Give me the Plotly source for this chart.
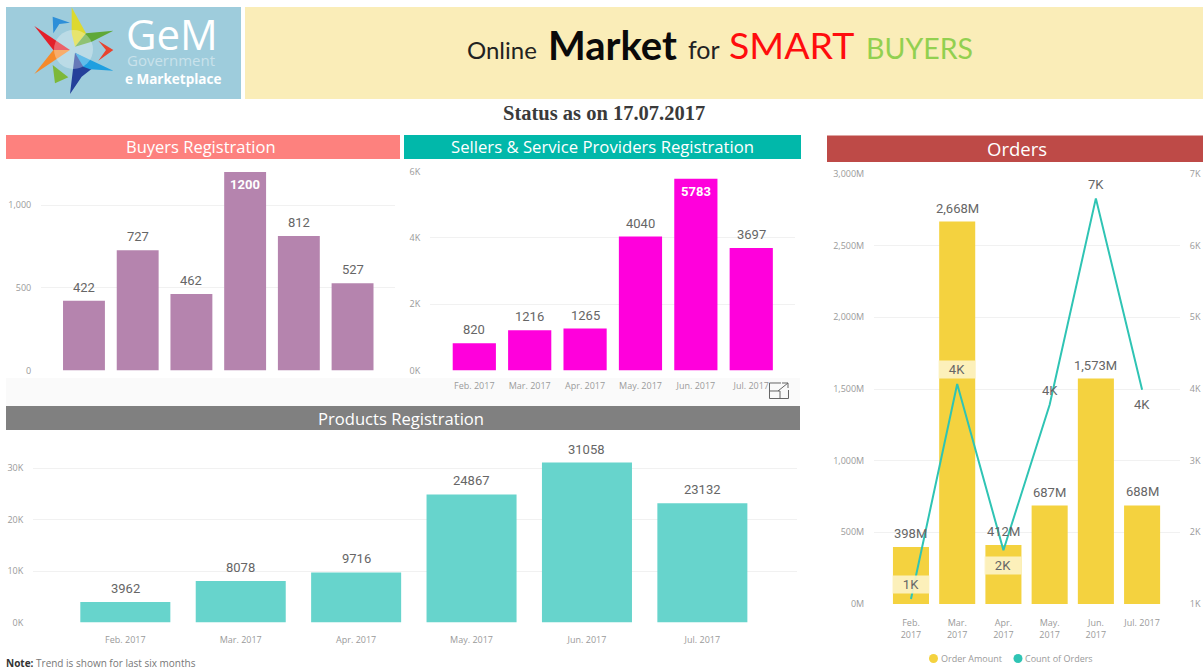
import plotly.graph_objects as go

W, H = 1203, 670

months = ["Feb. 2017", "Mar. 2017", "Apr. 2017", "May. 2017", "Jun. 2017", "Jul. 2017"]
months_wrapped = ["Feb.<br>2017", "Mar.<br>2017", "Apr.<br>2017", "May.<br>2017", "Jun.<br>2017", "Jul. 2017"]
buyers = [422, 727, 462, 1200, 812, 527]
sellers = [820, 1216, 1265, 4040, 5783, 3697]
products = [3962, 8078, 9716, 24867, 31058, 23132]
order_amount = [398, 2668, 412, 687, 1573, 688]
order_count = [1070, 4070, 1750, 3780, 6660, 3990]
order_count_labels = ["1K", "4K", "2K", "4K", "7K", "4K"]
order_label_below = [False, False, True, False, False, True]
order_label_box = [True, True, True, False, False, False]

TICK = "#9a9a9a"
LABEL = "#666666"
GRID = "#f1f1f1"
TF = "Open Sans"
NF = "Roboto"


def px(x):
    return x / W


def py(y):
    return 1 - y / H


def xdom(a, b):
    return [px(a), px(b)]


def ydom(top, bottom):
    return [py(bottom), py(top)]


fig = go.Figure()
annotations = []


def bars(vals, labels, color, xa, ya, inside_max=False):
    top = max(vals)
    fig.add_trace(go.Bar(
        x=months, y=vals, xaxis=xa, yaxis=ya, marker=dict(color=color, line=dict(width=0)),
        cliponaxis=False, showlegend=False, hoverinfo="x+y", width=0.78,
    ))
    for m, v, lab in zip(months, vals, labels):
        inside = inside_max and v == top
        annotations.append(dict(
            xref=xa, yref=ya, x=m, y=v, text=f"<b>{lab}</b>" if inside else lab, showarrow=False,
            yshift=-13 if inside else 13.5, xanchor="center", yanchor="middle", borderpad=0,
            font=dict(family=NF, size=13, color="white" if inside else LABEL),
        ))


bars(buyers, [str(v) for v in buyers], "#B584AE", "x", "y", True)
bars(sellers, [str(v) for v in sellers], "#FF00DC", "x2", "y2", True)
bars(products, [str(v) for v in products], "#67D4CC", "x3", "y3")
bars(order_amount, [f"{v:,}M" for v in order_amount], "#F4D23F", "x4", "y4")

fig.add_trace(go.Scatter(
    x=months, y=order_count, xaxis="x4", yaxis="y5", mode="lines",
    line=dict(color="#2FC4B4", width=2), showlegend=False, name="Count of Orders",
))


def xaxis(dom, rng, show=True, vals=None, text=None, anchor="y", ticklen=7):
    d = dict(domain=dom, range=rng, type="category", categoryorder="array", categoryarray=months,
             showgrid=False, zeroline=False, showline=False, anchor=anchor,
             fixedrange=True, tickfont=dict(family=TF, size=9, color=TICK), tickangle=0,
             ticks="outside" if show else "", ticklen=ticklen, tickcolor="rgba(0,0,0,0)",
             showticklabels=show)
    if vals:
        d.update(tickmode="array", tickvals=vals, ticktext=text)
    return d


def yaxis(dom, rng, vals, text, anchor, **kw):
    d = dict(domain=dom, range=rng, tickmode="array", tickvals=vals, ticktext=text, anchor=anchor,
             showgrid=True, gridcolor=GRID, gridwidth=1, zeroline=False, showline=False,
             tickfont=dict(family=TF, size=9, color=TICK), ticks="outside", ticklen=7,
             tickcolor="rgba(0,0,0,0)", fixedrange=True)
    d.update(kw)
    return d


bx = (41, 395)
sx = (430, 795)
px_ = (33, 797)
ox = (874, 1180)

layout = dict(
    width=W, height=H, autosize=False, margin=dict(l=0, r=0, t=0, b=0, autoexpand=False),
    paper_bgcolor="white", plot_bgcolor="rgba(0,0,0,0)", showlegend=False, bargap=0.22,
    xaxis=xaxis(xdom(*bx), [-0.8, 5.79], show=False, anchor="y"),
    yaxis=yaxis(ydom(165, 370.5), [0, 1241.7], [0, 500, 1000], ["0", "500", "1,000"], "x"),
    xaxis2=xaxis(xdom(*sx), [-0.8, 5.79], anchor="y2"),
    yaxis2=yaxis(ydom(171.5, 370.5), [0, 6000], [0, 2000, 4000, 6000], ["0K", "2K", "4K", "6K"], "x2"),
    xaxis3=xaxis(xdom(*px_), [-0.8, 5.82], anchor="y3", ticklen=9),
    yaxis3=yaxis(ydom(445, 622.5), [0, 34466], [0, 10000, 20000, 30000], ["0K", "10K", "20K", "30K"], "x3"),
    xaxis4=xaxis(xdom(*ox), [-0.8, 5.82], vals=months, text=months_wrapped, anchor="y4", ticklen=10),
    yaxis4=yaxis(ydom(174, 604), [0, 3000], [0, 500, 1000, 1500, 2000, 2500, 3000],
                 ["0M", "500M", "1,000M", "1,500M", "2,000M", "2,500M", "3,000M"], "x4"),
    yaxis5=yaxis(ydom(174, 604), [1000, 7000], [1000, 2000, 3000, 4000, 5000, 6000, 7000],
                 ["1K", "2K", "3K", "4K", "5K", "6K", "7K"], "x4", overlaying="y4", side="right", showgrid=False),
)

shapes = []


def rect(x0, y0, x1, y1, color, layer="below"):
    shapes.append(dict(type="rect", xref="paper", yref="paper", x0=px(x0), x1=px(x1), y0=py(y0), y1=py(y1),
                       fillcolor=color, line=dict(width=0), layer=layer))


def poly(points, color, opacity=1):
    path = "M " + " L ".join(f"{px(a / 3):.5f},{py(b / 3):.5f}" for a, b in points) + " Z"
    shapes.append(dict(type="path", xref="paper", yref="paper", path=path, fillcolor=color,
                       line=dict(width=0), opacity=opacity, layer="above"))


def stroke(points):
    path = "M " + " L ".join(f"{px(a):.5f},{py(b):.5f}" for a, b in points)
    shapes.append(dict(type="path", xref="paper", yref="paper", path=path,
                       line=dict(color="#666666", width=1), layer="above"))


def text(x, y, s, size, color, family=TF, anchor="center", bold=False):
    annotations.append(dict(xref="paper", yref="paper", x=px(x), y=py(y), text=f"<b>{s}</b>" if bold else s,
                            showarrow=False, xanchor=anchor, yanchor="middle",
                            font=dict(family=family, size=size, color=color),
                            borderpad=0))


# banner
rect(6, 7, 241, 99, "#9ECCDC")
rect(245, 7, 1203, 99, "#FAEDB8")
text(466, 50, "Online", 24, "#222222", "Lato", "left")
text(547, 45, "Market", 40, "#0a0a0a", "Lato", "left", True)
text(687, 49, "for", 25, "#222222", "Lato", "left")
text(728, 45, "SMART", 37.5, "#FF0D0D", "Lato", "left")
text(865, 48, "BUYERS", 28.5, "#92D050", "Lato", "left")

# logo
poly([(103, 78), (210, 150), (160, 150)], "#E3202A")
poly([(160, 150), (210, 150), (103, 222)], "#F58A2B")
poly([(215, 22), (258, 100), (225, 140), (215, 100)], "#DDD92F")
poly([(340, 92), (258, 100), (225, 140), (275, 125)], "#5FA838")
poly([(225, 158), (210, 282), (245, 230), (290, 195)], "#24409A")
poly([(225, 158), (340, 212), (270, 208), (250, 200)], "#1E9FE0")
poly([(158, 50), (210, 68), (178, 72), (160, 100)], "#2D8FD8")
poly([(295, 122), (340, 150), (295, 182), (318, 150)], "#E8432E")
poly([(158, 195), (205, 232), (165, 250)], "#7DB83A")
shapes.append(dict(type="circle", xref="paper", yref="paper", x0=px(54), x1=px(93), y0=py(30), y1=py(69),
                   fillcolor="rgba(255,255,255,0.3)", line=dict(width=0), layer="above"))
text(172, 33, "GeM", 42, "white", "Open Sans")
text(171, 60, "Government", 15, "#C9E2EB", "Open Sans")
text(173, 78.5, "e Marketplace", 13.5, "white", "Open Sans", bold=True)

text(604, 113, "Status as on 17.07.2017", 20.5, "#3a3a3a", "Liberation Serif", bold=True)

# panel headers
rect(6, 135, 400, 159, "#FD817E")
rect(404, 135, 801, 159, "#01B8AA")
rect(6, 406, 800, 430, "#808080")
rect(827, 135.5, 1203, 162, "#BE4A47")
rect(6, 378, 800, 406, "#FAFAFA")
text(200.5, 146.5, "Buyers Registration", 16.5, "white")
text(602.5, 146.5, "Sellers &amp; Service Providers Registration", 16.7, "white")
text(401, 418, "Products Registration", 16.6, "white")
text(1016.5, 148.5, "Orders", 18.5, "white")

# focus-mode icon
stroke([(781, 383), (769.5, 383), (769.5, 398.5), (788.5, 398.5), (788.5, 390)])
stroke([(769.5, 391), (780, 391), (780, 398.5)])
stroke([(778, 391), (788, 383), (782, 383)])
stroke([(788, 383), (788, 388)])

# line labels
for m, v, lab, below, box in zip(months, order_count, order_count_labels, order_label_below, order_label_box):
    annotations.append(dict(xref="x4", yref="y5", x=m, y=v, text=lab, showarrow=False,
                            yshift=-15 if below else 14, xanchor="center", yanchor="middle",
                            font=dict(family=NF, size=13, color=LABEL),
                            bgcolor="rgba(253,243,200,0.9)" if box else "rgba(0,0,0,0)",
                            width=34 if box else None, borderpad=1))

# legend
for cx, c in ((933.5, "#F4D23F"), (1018, "#2FC4B4")):
    shapes.append(dict(type="circle", xref="paper", yref="paper", x0=px(cx - 4.5), x1=px(cx + 4.5),
                       y0=py(654), y1=py(663), fillcolor=c, line=dict(width=0), layer="above"))
text(940, 658.5, "Order Amount", 9, TICK, anchor="left")
text(1024, 658.5, "Count of Orders", 9, TICK, anchor="left")

# note
annotations.append(dict(xref="paper", yref="paper", x=px(6), y=py(662.5), xanchor="left", yanchor="middle",
                        showarrow=False, borderpad=0, borderwidth=0,
                        text="<b>Note:</b> <span style='color:#777777'>Trend is shown for last six months</span>",
                        font=dict(family=TF, size=10, color="#333333")))

layout["shapes"] = shapes
layout["annotations"] = annotations
fig.update_layout(**layout)
fig.write_html("out.html", config={"displayModeBar": False},
               post_script="document.body.style.margin='0';document.documentElement.style.overflow='hidden';")
